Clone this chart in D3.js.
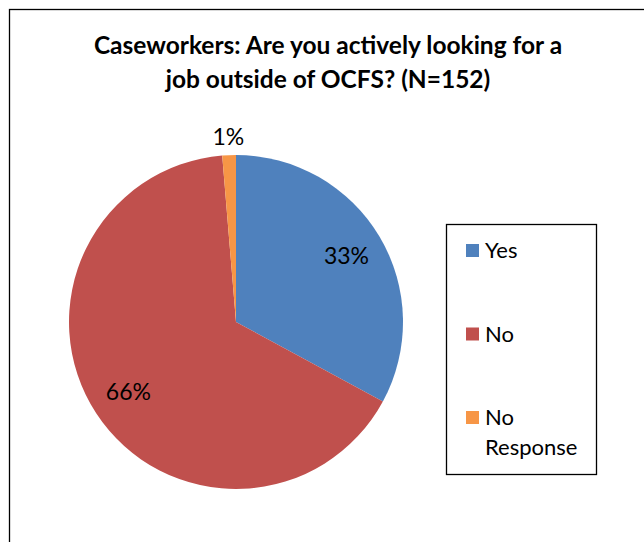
<!DOCTYPE html>
<html><head><meta charset="utf-8">
<script src="https://cdn.jsdelivr.net/npm/d3@7"></script>
<style>body{margin:0;background:#fff}svg{display:block}text{font-family:Lato,"Open Sans",sans-serif}</style>
</head><body>
<svg id="chart" width="644" height="542"></svg>
<script>
const categories = ["Yes", "No", "No Response"];
const values = [50, 100, 2];
const pctLabels = ["33%", "66%", "1%"];
const colors = ["#4F81BD", "#C0504D", "#F79646"];
const titleLines = ["Caseworkers: Are you actively looking for a", "job outside of OCFS? (N=152)"];

const svg = d3.select("#chart");
svg.append("rect").attr("x", 9.5).attr("y", 9.5).attr("width", 700).attr("height", 600)
  .attr("fill", "#fff").attr("stroke", "#000").attr("stroke-width", 1.3);

svg.selectAll("text.title").data(titleLines).enter().append("text")
  .attr("class", "title").attr("x", 328).attr("y", (d, i) => 54 + i * 34)
  .attr("text-anchor", "middle").attr("font-weight", "bold").attr("font-size", 24.5)
  .attr("fill", "#000").text(d => d);

const cx = 236, cy = 322, r = 167;
const pie = d3.pie().sort(null).value(d => d)(values);
const arc = d3.arc().innerRadius(0).outerRadius(r);
const g = svg.append("g").attr("transform", `translate(${cx},${cy})`);
g.selectAll("path").data(pie).enter().append("path")
  .attr("d", arc).attr("fill", (d, i) => colors[i]);

const labelArc = d3.arc().innerRadius(r * 0.77).outerRadius(r * 0.77);
const outArc = d3.arc().innerRadius(r * 1.11).outerRadius(r * 1.11);
g.selectAll("text.pct").data(pie).enter().append("text")
  .attr("class", "pct")
  .attr("transform", (d, i) => {
    const p = i === 2 ? outArc.centroid(d) : labelArc.centroid(d);
    return `translate(${p[0]},${p[1]})`;
  })
  .attr("text-anchor", "middle").attr("dy", "0.35em").attr("font-size", 23)
  .attr("fill", "#000").text((d, i) => pctLabels[i]);

// legend
svg.append("rect").attr("x", 446.5).attr("y", 224.5).attr("width", 150).attr("height", 250)
  .attr("fill", "none").attr("stroke", "#000").attr("stroke-width", 1.3);
const legendY = d3.scalePoint().domain(categories).range([251, 418]);
const lg = svg.selectAll("g.leg").data(categories).enter().append("g")
  .attr("transform", d => `translate(466,${legendY(d)})`);
lg.append("rect").attr("x", 0).attr("y", -7).attr("width", 13).attr("height", 13)
  .attr("fill", (d, i) => colors[i]);
lg.append("text").attr("x", 19).attr("y", 7).attr("font-size", 22).attr("fill", "#000")
  .each(function(d) {
    const t = d3.select(this);
    const parts = d === "No Response" ? ["No", "Response"] : [d];
    parts.forEach((p, j) => t.append("tspan").attr("x", 19).attr("dy", j === 0 ? 0 : 30).text(p));
  });
</script>
</body></html>
